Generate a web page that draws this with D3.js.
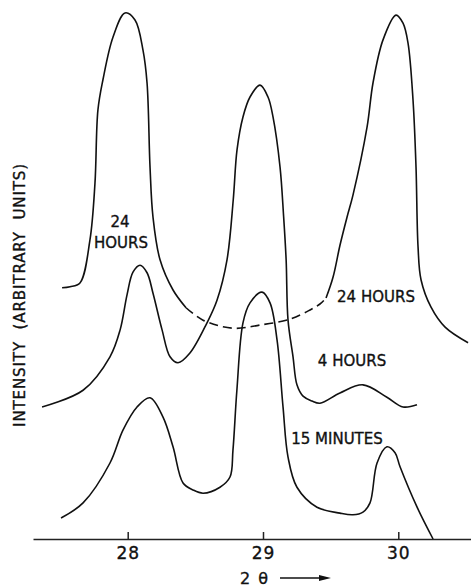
<!DOCTYPE html>
<html>
<head>
<meta charset="utf-8">
<script src="https://cdn.jsdelivr.net/npm/d3@7/dist/d3.min.js"></script>
<style>
  body { margin: 0; background: #fff; }
  svg text { font-family: "DejaVu Sans", sans-serif; fill: #111; stroke: #111; stroke-width: 0.35px; }
</style>
</head>
<body>
<div id="chart"></div>
<script>
// X-ray diffraction profiles, 2θ (degrees) vs intensity (arbitrary units)
const xTicks = [28, 29, 30];

// 15 minutes
const min15Theta = [27.507, 27.670, 27.869, 27.965, 28.069, 28.165, 28.261, 28.335, 28.409, 28.483, 28.557, 28.682, 28.756, 28.778, 28.807, 28.852, 28.904, 28.993, 29.052, 29.104, 29.148, 29.185, 29.251, 29.399, 29.569, 29.665, 29.739, 29.791, 29.843, 29.916, 29.976, 30.013, 30.139, 30.257];
const min15Int   = [3.9, 6.7, 14.1, 20.2, 24.5, 26.2, 22.6, 17.1, 10.4, 9.1, 8.5, 9.6, 11.5, 16.5, 27.6, 40.1, 43.8, 45.8, 43.8, 36.9, 24.5, 15.2, 9.6, 5.9, 4.8, 4.5, 5.0, 6.7, 14.1, 17.1, 16.0, 13.4, 5.9, 0];

// 4 hours
const hr4Theta = [27.367, 27.670, 27.869, 27.944, 27.995, 28.039, 28.091, 28.143, 28.187, 28.254, 28.313, 28.372, 28.460, 28.586, 28.660, 28.734, 28.780, 28.808, 28.852, 28.904, 28.978, 29.037, 29.074, 29.126, 29.152, 29.171, 29.185, 29.222, 29.251, 29.296, 29.362, 29.421, 29.569, 29.739, 29.916, 30.035, 30.138];
const hr4Int   = [24.5, 27.6, 33.8, 38.8, 45.3, 49.5, 50.8, 49.4, 45.6, 38.8, 33.8, 32.7, 34.5, 40.1, 44.3, 51.8, 62.9, 72.2, 78.3, 82.0, 84.2, 82.0, 78.3, 69.0, 60.0, 51.8, 40.6, 33.8, 28.6, 26.5, 25.6, 25.2, 27.1, 28.6, 26.3, 24.5, 24.9];

// 24 hours, measured part left
const hr24aTheta = [27.515, 27.574, 27.647, 27.721, 27.758, 27.780, 27.817, 27.891, 27.980, 28.054, 28.113, 28.143, 28.165, 28.187, 28.239, 28.335, 28.431];
const hr24aInt   = [46.6, 46.8, 47.5, 55.5, 66.0, 79.6, 85.2, 93.1, 97.6, 96.3, 90.7, 84.6, 69.0, 59.7, 51.8, 46.2, 42.9];
// 24 hours, dashed background
const hr24bTheta = [28.431, 28.557, 28.778, 28.978, 29.200, 29.348, 29.421, 29.466];
const hr24bInt   = [42.9, 40.6, 39.1, 39.7, 40.8, 42.5, 43.6, 44.7];
// 24 hours, measured part right
const hr24cTheta = [29.466, 29.518, 29.569, 29.621, 29.665, 29.769, 29.813, 29.887, 29.983, 30.035, 30.072, 30.109, 30.131, 30.146, 30.168, 30.242, 30.346, 30.516];
const hr24cInt   = [44.7, 48.6, 54.5, 59.7, 63.8, 76.4, 84.6, 92.6, 97.2, 95.7, 92.0, 81.4, 69.0, 54.2, 48.1, 43.0, 39.3, 36.4];

const width = 471, height = 587;
const svg = d3.select("#chart").append("svg")
    .attr("width", width)
    .attr("height", height);

const x = d3.scaleLinear().domain([27.3, 30.55]).range([33, 472.7]);
const y = d3.scaleLinear().domain([0, 100]).range([539, 0]);

const line = d3.line()
    .x(d => x(d[0]))
    .y(d => y(d[1]))
    .curve(d3.curveCatmullRom.alpha(0.5));

function draw(thetas, ints, dashed) {
    svg.append("path")
        .datum(d3.zip(thetas, ints))
        .attr("d", line)
        .attr("fill", "none")
        .attr("stroke", "#111")
        .attr("stroke-width", 1.6)
        .attr("stroke-linejoin", "round")
        .attr("stroke-dasharray", dashed ? "9,5" : null);
}

draw(min15Theta, min15Int);
draw(hr4Theta, hr4Int);
draw(hr24aTheta, hr24aInt);
draw(hr24bTheta, hr24bInt, true);
draw(hr24cTheta, hr24cInt);

// axe des x, graduations vers le haut
const axis = svg.append("g")
    .attr("transform", "translate(0," + y(0) + ")")
    .call(d3.axisBottom(x).tickValues(xTicks).tickFormat(d3.format("d"))
        .tickSizeInner(-7).tickSizeOuter(0).tickPadding(8));
axis.select(".domain").attr("stroke", "#222").attr("stroke-width", 1.5);
axis.selectAll(".tick line").attr("stroke", "#222").attr("stroke-width", 1.5);
axis.selectAll(".tick text")
    .style("font-size", "17px")
    .style("letter-spacing", "1px")
    .attr("fill", "#111");

// titre de l'axe x : 2θ avec flèche
svg.append("text")
    .attr("x", 254).attr("y", 578).attr("dy", "0.35em")
    .attr("text-anchor", "middle")
    .style("font-size", "16px")
    .style("word-spacing", "3px")
    .text("2 θ");
svg.append("line")
    .attr("x1", 280).attr("x2", 322)
    .attr("y1", 578).attr("y2", 578)
    .attr("stroke", "#111").attr("stroke-width", 1.5);
svg.append("path")
    .attr("d", "M319,575 L331,578 L319,581 Z")
    .attr("fill", "#111");

// titre de l'axe y
svg.append("text")
    .attr("transform", "translate(20,295) rotate(-90)")
    .attr("dy", "0.35em")
    .attr("text-anchor", "middle")
    .style("font-size", "15px")
    .style("letter-spacing", "0.9px")
    .style("word-spacing", "6px")
    .text("INTENSITY (ARBITRARY UNITS)");

// étiquettes des courbes
function label(txt, cx, cy) {
    svg.append("text")
        .attr("x", cx).attr("y", cy).attr("dy", "0.35em")
        .attr("text-anchor", "middle")
        .style("font-size", "15px")
        .text(txt);
}
label("24", 120, 222);
label("HOURS", 121, 243);
label("24 HOURS", 376, 297);
label("4 HOURS", 352, 361);
label("15 MINUTES", 337, 439);
</script>
</body>
</html>
